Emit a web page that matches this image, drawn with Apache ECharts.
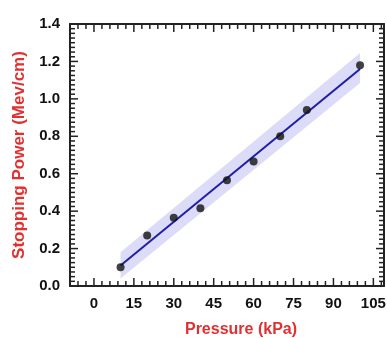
<!DOCTYPE html>
<html>
<head>
<meta charset="utf-8">
<script src="https://cdn.jsdelivr.net/npm/echarts@6/dist/echarts.min.js"></script>
<style>
  html, body { margin: 0; padding: 0; background: #fff; }
  #chart { width: 387px; height: 338px; }
</style>
</head>
<body>
<div id="chart"></div>
<script>
// measured data (Pressure kPa -> Stopping power Mev/cm)
var pressure = [10, 20, 30, 40, 50, 60, 70, 80, 100]
var stopping = [0.10, 0.27, 0.365, 0.415, 0.565, 0.665, 0.80, 0.94, 1.18]

// linear fit line and its confidence band
var fitX = [10, 100]
var fitY = [0.11, 1.16]
var bandLower = [0.04, 1.085]
var bandUpper = [0.18, 1.245]

// axis extents / tick steps
var xRange = [-9, 109]
var xStep = 15
var yRange = [0, 1.4]
var yStep = 0.2

// tick positions (drawn as short marks inside the frame)
var xMajorTicks = [0, 15, 30, 45, 60, 75, 90, 105]
var xMinorTicks = [-6, -3, 3, 6, 9, 12, 18, 21, 24, 27, 33, 36, 39, 42, 48, 51, 54, 57,
  63, 66, 69, 72, 78, 81, 84, 87, 93, 96, 99, 102, 108]
var yMajorTicks = [0.2, 0.4, 0.6, 0.8, 1.0, 1.2]
var yMinorTicks = []
for (var k = 1; k < 56; k++) {
  if (k % 8 !== 0) yMinorTicks.push(k * 0.025)
}

var FONT = 'Arial, "Liberation Sans", sans-serif'
var RED = '#e03030'
var AXIS_COLOR = '#222'
var MAJOR_LEN = 8
var MINOR_LEN = 5

var chart = echarts.init(document.getElementById('chart'))

var labelStyle = {
  margin: 10,
  color: '#111',
  fontSize: 15,
  fontWeight: 'bold',
  fontFamily: FONT
}

function xAxisDef(pos, withLabel) {
  return {
    type: 'value',
    position: pos,
    min: xRange[0],
    max: xRange[1],
    // labels at multiples of 15 starting from 0
    minInterval: xStep,
    maxInterval: xStep,
    splitLine: { show: false },
    axisLine: { show: true, onZero: false, lineStyle: { color: AXIS_COLOR, width: 2 } },
    axisTick: { show: false },
    axisLabel: Object.assign({ show: withLabel, showMinLabel: false, showMaxLabel: false }, labelStyle)
  }
}

function yAxisDef(pos, withLabel) {
  return {
    type: 'value',
    position: pos,
    min: yRange[0],
    max: yRange[1],
    interval: yStep,
    splitLine: { show: false },
    axisLine: { show: true, onZero: false, lineStyle: { color: AXIS_COLOR, width: 2 } },
    axisTick: { show: false },
    axisLabel: Object.assign({
      show: withLabel,
      formatter: function(v) { return v.toFixed(1) }
    }, labelStyle)
  }
}

// tick items: [x, y, dx, dy] -> a short line from the frame point inward
var tickItems = []
xMajorTicks.forEach(function(v) {
  tickItems.push([v, yRange[0], 0, -MAJOR_LEN])
  tickItems.push([v, yRange[1], 0, MAJOR_LEN])
})
xMinorTicks.forEach(function(v) {
  tickItems.push([v, yRange[0], 0, -MINOR_LEN])
  tickItems.push([v, yRange[1], 0, MINOR_LEN])
})
yMajorTicks.forEach(function(v) {
  tickItems.push([xRange[0], v, MAJOR_LEN, 0])
  tickItems.push([xRange[1], v, -MAJOR_LEN, 0])
})
yMinorTicks.forEach(function(v) {
  tickItems.push([xRange[0], v, MINOR_LEN, 0])
  tickItems.push([xRange[1], v, -MINOR_LEN, 0])
})

var xBottom = xAxisDef('bottom', true)
xBottom.name = 'Pressure (kPa)'
xBottom.nameLocation = 'middle'
xBottom.nameGap = 36
xBottom.nameTextStyle = { color: RED, fontSize: 16, fontWeight: 'bold', fontFamily: FONT, padding: [0, 0, 0, 28] }

var yLeft = yAxisDef('left', true)
yLeft.name = 'Stopping Power (Mev/cm)'
yLeft.nameLocation = 'middle'
yLeft.nameGap = 38
yLeft.nameTextStyle = { color: RED, fontSize: 17, fontWeight: 'bold', fontFamily: FONT }

chart.setOption({
  grid: { left: 70, right: 3, top: 24, bottom: 52, outerBoundsMode: 'none' },
  xAxis: [xBottom, xAxisDef('top', false)],
  yAxis: [yLeft, yAxisDef('right', false)],
  series: [
    {
      name: 'band',
      type: 'custom',
      z: 1,
      data: fitX.map(function(x, i) { return [x, bandLower[i], bandUpper[i]] }),
      encode: { x: 0, y: [1, 2] },
      renderItem: function(params, api) {
        if (params.dataIndex !== 0) return null
        var pts = []
        for (var i = 0; i < fitX.length; i++) pts.push(api.coord([fitX[i], bandUpper[i]]))
        for (var j = fitX.length - 1; j >= 0; j--) pts.push(api.coord([fitX[j], bandLower[j]]))
        return { type: 'polygon', shape: { points: pts }, style: { fill: '#dcdcf8' } }
      }
    },
    {
      name: 'ticks',
      type: 'custom',
      z: 4,
      silent: true,
      data: tickItems,
      encode: { x: 0, y: 1 },
      renderItem: function(params, api) {
        var p = api.coord([api.value(0), api.value(1)])
        return {
          type: 'line',
          shape: { x1: p[0], y1: p[1], x2: p[0] + api.value(2), y2: p[1] + api.value(3) },
          style: { stroke: AXIS_COLOR, lineWidth: 1.5 }
        }
      }
    },
    {
      name: 'fit',
      type: 'line',
      z: 2,
      symbol: 'none',
      data: fitX.map(function(x, i) { return [x, fitY[i]] }),
      lineStyle: { color: '#1f1fa8', width: 2 }
    },
    {
      name: 'data',
      type: 'scatter',
      z: 3,
      symbolSize: 8,
      itemStyle: { color: '#111' },
      data: pressure.map(function(x, i) { return [x, stopping[i]] })
    }
  ]
})
</script>
</body>
</html>
